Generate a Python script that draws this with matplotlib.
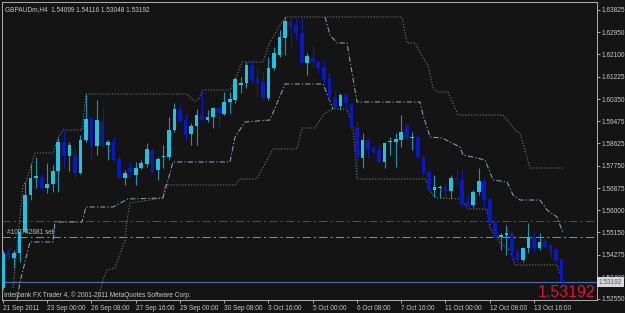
import numpy as np
import matplotlib.pyplot as plt
import matplotlib.transforms as mtransforms

plt.rcParams['font.family'] = ['Liberation Sans Narrow', 'Liberation Sans', 'DejaVu Sans']

# GBPAUD H4 bars, 21 Sep 2011 16:00 .. 14 Oct 2011
opens = [1.52972, 1.54455, 1.54143, 1.54338, 1.55158, 1.56602, 1.57266, 1.57305, 1.56876, 1.57032,
         1.57539, 1.58671, 1.58125, 1.58164, 1.57461, 1.58749, 1.59608, 1.58515, 1.59491, 1.58554,
         1.58671, 1.58008, 1.57266, 1.57656, 1.57383, 1.57656, 1.57812, 1.58359, 1.57578, 1.58086,
         1.58086, 1.59140, 1.59960, 1.59530, 1.58984, 1.59296, 1.59725, 1.59530, 1.59647, 1.59999,
         1.59764, 1.60233, 1.60311, 1.60897, 1.60975, 1.61677, 1.61131, 1.61014, 1.60389, 1.61560,
         1.62068, 1.62732, 1.63395, 1.63239, 1.62927, 1.61756, 1.61951, 1.61795, 1.61599, 1.61170,
         1.60389, 1.60077, 1.60506, 1.60155, 1.59218, 1.58047, 1.58749, 1.58437, 1.58359, 1.57891,
         1.58671, 1.58671, 1.58749, 1.59335, 1.58828, 1.58867, 1.58086, 1.57500, 1.56797, 1.56876,
         1.56915, 1.56758, 1.57266, 1.57188, 1.56329, 1.56212, 1.56719, 1.57149, 1.56446, 1.55548,
         1.54963, 1.55041, 1.55119, 1.54377, 1.54065, 1.54533, 1.54963, 1.54533, 1.54806, 1.54650,
         1.54455, 1.54099]
highs = [1.54455, 1.54572, 1.54455, 1.55236, 1.57110, 1.57852, 1.58086, 1.57461, 1.57852, 1.57773,
         1.58828, 1.59140, 1.58671, 1.58437, 1.58945, 1.60545, 1.59647, 1.60311, 1.60038, 1.58749,
         1.58867, 1.58164, 1.57578, 1.57852, 1.57891, 1.57969, 1.58632, 1.58437, 1.58086, 1.58554,
         1.59647, 1.60194, 1.60116, 1.59804, 1.59413, 1.59960, 1.60623, 1.59921, 1.60038, 1.60038,
         1.60623, 1.60623, 1.61209, 1.61209, 1.61795, 1.61795, 1.61560, 1.61404, 1.61990, 1.62380,
         1.63044, 1.63551, 1.63512, 1.63512, 1.63512, 1.62146, 1.62458, 1.61873, 1.61873, 1.61404,
         1.60701, 1.60584, 1.60584, 1.60194, 1.59452, 1.59023, 1.58828, 1.58554, 1.58632, 1.58671,
         1.58867, 1.59023, 1.59725, 1.59374, 1.59062, 1.58945, 1.58164, 1.57578, 1.57383, 1.56993,
         1.56993, 1.57383, 1.57656, 1.57578, 1.56602, 1.56797, 1.57656, 1.57266, 1.56485, 1.55587,
         1.55119, 1.55431, 1.55158, 1.54533, 1.54572, 1.55509, 1.55158, 1.55119, 1.54963, 1.54728,
         1.54572, 1.54116]
lows = [1.52894, 1.54065, 1.53752, 1.53987, 1.55119, 1.56407, 1.56876, 1.56797, 1.56680, 1.56719,
        1.56719, 1.57695, 1.57539, 1.57266, 1.57422, 1.58671, 1.57969, 1.58164, 1.58476, 1.57969,
        1.57930, 1.57227, 1.56993, 1.57305, 1.56993, 1.57617, 1.57695, 1.57461, 1.57188, 1.57656,
        1.57969, 1.59062, 1.59452, 1.58749, 1.58554, 1.58554, 1.59530, 1.59452, 1.59218, 1.59257,
        1.59725, 1.59804, 1.60194, 1.60584, 1.60780, 1.60975, 1.60428, 1.60311, 1.60311, 1.61482,
        1.61990, 1.62068, 1.62380, 1.62653, 1.61756, 1.61287, 1.61599, 1.61365, 1.60975, 1.60311,
        1.59999, 1.59921, 1.59999, 1.59140, 1.57305, 1.57656, 1.58047, 1.58242, 1.57852, 1.57656,
        1.58164, 1.57695, 1.58476, 1.58749, 1.58359, 1.58047, 1.57305, 1.56719, 1.56524, 1.56485,
        1.56485, 1.56485, 1.56993, 1.56173, 1.56095, 1.56134, 1.56602, 1.56134, 1.55431, 1.54924,
        1.54455, 1.54260, 1.54065, 1.53987, 1.53987, 1.54338, 1.54377, 1.54455, 1.54533, 1.54143,
        1.53987, 1.53048]
closes = [1.54338, 1.54143, 1.54338, 1.55158, 1.56602, 1.57266, 1.57344, 1.56876, 1.57032, 1.57539,
          1.58671, 1.58125, 1.58554, 1.57461, 1.58749, 1.59569, 1.58515, 1.59530, 1.58515, 1.58671,
          1.57969, 1.57266, 1.57461, 1.57500, 1.57656, 1.57852, 1.58398, 1.57500, 1.58008, 1.58125,
          1.59140, 1.59960, 1.59491, 1.58945, 1.59296, 1.59725, 1.59530, 1.59647, 1.59999, 1.59804,
          1.60233, 1.60350, 1.61131, 1.60975, 1.61677, 1.61092, 1.60975, 1.60389, 1.61560, 1.62146,
          1.62771, 1.63395, 1.63161, 1.62927, 1.61756, 1.62029, 1.61795, 1.61560, 1.61092, 1.60389,
          1.60038, 1.60506, 1.60194, 1.59218, 1.58047, 1.58749, 1.58359, 1.58281, 1.57891, 1.58632,
          1.58710, 1.58788, 1.59062, 1.58828, 1.58867, 1.58086, 1.57461, 1.56797, 1.56915, 1.56915,
          1.56758, 1.57266, 1.57188, 1.56251, 1.56173, 1.56719, 1.57149, 1.56407, 1.55509, 1.54924,
          1.55041, 1.55119, 1.54377, 1.54065, 1.54533, 1.54963, 1.54533, 1.54767, 1.54572, 1.54416,
          1.54065, 1.53192]

# indicator lines, vertices as (bar index, price)
upper_x = [1.81, 3.62, 4.16, 5.79, 9.04, 9.94, 10.85, 14.28, 15.01, 33.27, 34.53, 35.26, 36.16,
           41.04, 41.95, 43.21, 47.01, 48.27, 50.99, 72.14, 73.05, 74.5, 75.94, 76.84, 77.74,
           78.65, 80.46, 82.26, 90.4, 92.93, 93.47, 95.28, 101.25]
upper_y = [1.52971, 1.56993, 1.57110, 1.58242, 1.58242, 1.58828, 1.59140, 1.59140, 1.60545,
           1.60545, 1.60272, 1.60311, 1.60701, 1.60701, 1.61092, 1.61795, 1.61795, 1.62575,
           1.63551, 1.63551, 1.62536, 1.62536, 1.61951, 1.61677, 1.60780, 1.60623, 1.60623,
           1.59725, 1.59725, 1.59062, 1.59023, 1.57656, 1.57656]
lower_x = [16.63, 18.08, 18.8, 20.25, 22.06, 22.42, 22.96, 28.93, 29.29, 41.95, 42.85, 45.92,
           46.47, 48.82, 53.16, 54.06, 56.41, 57.68, 58.22, 59.66, 62.19, 63.28, 64.0, 76.3,
           77.74, 78.65, 82.63, 83.53, 84.07, 87.51, 88.05, 89.86, 91.67, 92.57, 100.16, 101.25]
lower_y = [1.52113, 1.53284, 1.53674, 1.53752, 1.54845, 1.55626, 1.56290, 1.56485, 1.56993,
           1.56993, 1.57227, 1.57227, 1.57461, 1.58398, 1.58398, 1.59218, 1.59218, 1.59647,
           1.59804, 1.59960, 1.59960, 1.59257, 1.57227, 1.57227, 1.56602, 1.56485, 1.56446,
           1.56212, 1.56056, 1.56056, 1.55314, 1.54728, 1.54455, 1.53870, 1.53870, 1.53245]
hi2_x = [58.22, 59.12, 60.39, 62.19, 64.0, 75.4, 75.94, 77.2, 79.37, 80.82, 82.63, 83.17, 85.7,
         87.15, 88.59, 91.12, 92.21, 93.47, 97.09, 98.36, 100.16, 101.25]
hi2_y = [1.63551, 1.62849, 1.62536, 1.62536, 1.60233, 1.60233, 1.59725, 1.58867, 1.58828,
         1.58671, 1.58476, 1.58164, 1.58047, 1.57969, 1.57188, 1.57110, 1.56602, 1.56407,
         1.56407, 1.56017, 1.55743, 1.55119]
lo2_x = [2.53, 3.07, 4.88, 9.04, 9.40, 14.28, 15.01, 19.89, 22.60, 28.93, 30.74, 41.04, 41.95,
         43.75, 48.27, 50.99, 57.86, 59.66]
lo2_y = [1.52503, 1.53206, 1.54767, 1.54767, 1.55548, 1.55548, 1.56134, 1.56134, 1.56446,
         1.56485, 1.57891, 1.57891, 1.58867, 1.59452, 1.59530, 1.60936, 1.60936, 1.59960]

price_ticks = [1.63825, 1.62950, 1.62100, 1.61225, 1.60350, 1.59475, 1.58625, 1.57750,
               1.56875, 1.56000, 1.55150, 1.54275, 1.53400, 1.52550]
time_ticks = [0, 8, 16, 24, 32, 40, 48, 56, 64, 72, 80, 88, 96]
time_labels = ['21 Sep 2011', '23 Sep 00:00', '26 Sep 08:00', '27 Sep 16:00', '29 Sep 00:00',
               '30 Sep 08:00', '3 Oct 16:00', '5 Oct 00:00', '6 Oct 08:00', '7 Oct 16:00',
               '11 Oct 00:00', '12 Oct 08:00', '13 Oct 16:00']

order_price = 1.54963
stop_price = 1.55587

bg = '#141414'
fg = '#a8a8a8'
txt = '#c8c8c8'
fs = 4.7
bull_body, bull_wick = '#1ec3e2', '#1b95ae'
bear_body, bear_wick = '#0a18c0', '#0a18c0'

W, H = 625, 313
fig = plt.figure(figsize=(W / 100, H / 100), dpi=100)
fig.patch.set_facecolor(bg)
ax = fig.add_axes([2 / W, 13 / H, 595 / W, 298 / H])
ax.set_facecolor(bg)

o = np.array(opens); h = np.array(highs); l = np.array(lows); c = np.array(closes)
idx = np.arange(len(o))
up = c >= o

# candles
ax.vlines(idx[up], l[up], h[up], color=bull_wick, lw=0.8, zorder=3)
ax.vlines(idx[~up], l[~up], h[~up], color=bear_wick, lw=0.8, zorder=3)
bot = np.minimum(o, c)
hgt = np.maximum(np.abs(c - o), 0.00035)
ax.bar(idx[up], hgt[up], bottom=bot[up], width=0.66, color=bull_body, linewidth=0, zorder=4)
ax.bar(idx[~up], hgt[~up], bottom=bot[~up], width=0.66, color=bear_body, linewidth=0, zorder=4)

# channel lines
dot = (0, (1.2, 1.6))
dashdot = (0, (5, 2, 1.2, 2))
ax.plot(upper_x, upper_y, color='#6f7378', lw=0.75, ls=dot, zorder=2)
ax.plot(lower_x, lower_y, color='#6f7378', lw=0.75, ls=dot, zorder=2)
ax.plot(hi2_x, hi2_y, color='#8e9cae', lw=0.75, ls=dashdot, zorder=2)
ax.plot(lo2_x, lo2_y, color='#8e9cae', lw=0.75, ls=dashdot, zorder=2)

# order lines
ax.axhline(stop_price, color='#b52020', lw=0.75, ls=(0, (8, 3, 2, 3)), zorder=1)
ax.axhline(order_price, color='#1fb8b8', lw=0.75, ls=(0, (8, 3, 2, 3)), zorder=1)
ax.axhline(closes[-1], color='#4a6aac', lw=0.9, zorder=1)
ax.text(0.008, order_price + 0.0003, '#100742681 sell', color='#b8b8b8', fontsize=fs,
        transform=mtransforms.blended_transform_factory(ax.transAxes, ax.transData),
        ha='left', va='bottom')

ax.set_xlim(-0.18, 107.39)
ax.set_ylim(1.52503, 1.64137)

for s in ax.spines.values():
    s.set_color(fg)
    s.set_linewidth(0.75)

ax.yaxis.tick_right()
ax.set_yticks(price_ticks)
ax.set_yticklabels(['%.5f' % p for p in price_ticks])
ax.tick_params(axis='y', direction='out', length=2.2, width=0.7, color=fg,
               labelsize=fs, labelcolor=txt, pad=0.8)
ax.set_xticks(time_ticks)
ax.set_xticklabels(time_labels, ha='left')
ax.tick_params(axis='x', direction='out', length=2.2, width=0.7, color=fg,
               labelsize=fs, labelcolor=txt, pad=1.2)

# current price tag on the price scale
tag = mtransforms.blended_transform_factory(ax.transAxes, ax.transData)
ax.text(1.003, closes[-1], '%.5f' % closes[-1], transform=tag, ha='left', va='center',
        fontsize=fs, color='#505a6a',
        bbox=dict(boxstyle='square,pad=0.25', facecolor='#d8d8d8', edgecolor='none'))

ax.text(0.997, 0.0, '%.5f' % closes[-1], transform=ax.transAxes, ha='right', va='bottom',
        fontsize=11.5, color='#dc143c', family=['Liberation Sans', 'DejaVu Sans'])
ax.text(0.004, 0.004, 'Interbank FX Trader 4, \u00a9 2001-2011 MetaQuotes Software Corp.',
        transform=ax.transAxes, ha='left', va='bottom', fontsize=fs, color=txt)
ax.text(0.005, 0.988, 'GBPAUDm,H4  %.5f %.5f %.5f %.5f' % (opens[-1], highs[-1], lows[-1], closes[-1]),
        transform=ax.transAxes, ha='left', va='top', fontsize=fs, color=txt)

fig.savefig('out.png', dpi=100, facecolor=bg)
